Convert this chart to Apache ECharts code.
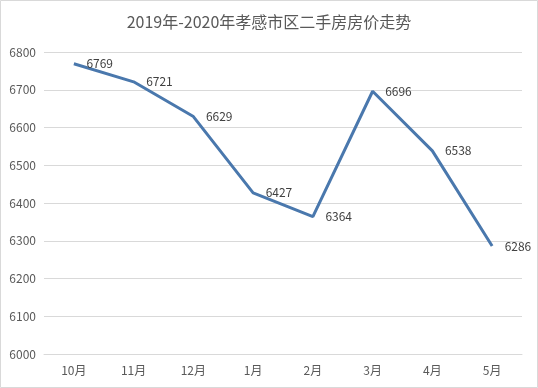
<!DOCTYPE html>
<html><head><meta charset="utf-8">
<script src="https://cdn.jsdelivr.net/npm/echarts@6/dist/echarts.min.js"></script>
<style>html,body{margin:0;padding:0;background:#fff}#c{width:538px;height:388px}</style>
</head><body><div id="c"></div>
<script>
var categories = ['10月','11月','12月','1月','2月','3月','4月','5月'];
var prices = [6769, 6721, 6629, 6427, 6364, 6696, 6538, 6286];
var yTicks = [6000, 6800, 100];
var titleText = '2019年-2020年孝感市区二手房房价走势';

var chart = echarts.init(document.getElementById('c'), null, {renderer:'canvas'});
chart.setOption({
  animation: false,
  backgroundColor: '#fff',
  textStyle: {fontFamily: '"Noto Sans CJK SC",sans-serif'},
  title: {text: titleText, left: 'center', top: 9,
    textStyle: {fontSize: 16, fontWeight: 'normal', color: '#595959', fontFamily: '"Noto Sans CJK SC",sans-serif'}},
  graphic: [{type:'rect', shape:{x:0.5,y:0.5,width:537,height:387}, style:{fill:'none', stroke:'#d9d9d9', lineWidth:1}, silent:true}],
  grid: {left: 44, right: 16, top: 52, bottom: 34},
  xAxis: {type:'category', data: categories, boundaryGap: true,
    axisLine:{lineStyle:{color:'#d9d9d9'}}, axisTick:{show:false},
    axisLabel:{color:'#595959', fontSize:12, margin:10}},
  yAxis: {type:'value', min: yTicks[0], max: yTicks[1], interval: yTicks[2],
    axisLine:{show:false}, axisTick:{show:false},
    axisLabel:{color:'#595959', fontSize:12, margin:8, formatter: function(v){return String(v);}},
    splitLine:{lineStyle:{color:'#d9d9d9'}}},
  series: [{type:'line', data: prices, symbol:'circle', symbolSize:1, showSymbol:true,
    itemStyle:{color:'#4a78ad', opacity:0},
    lineStyle:{color:'#4a78ad', width:3},
    label:{show:true, position:'right', distance:12, color:'#404040', fontSize:12, opacity:1}}]
});
</script></body></html>
